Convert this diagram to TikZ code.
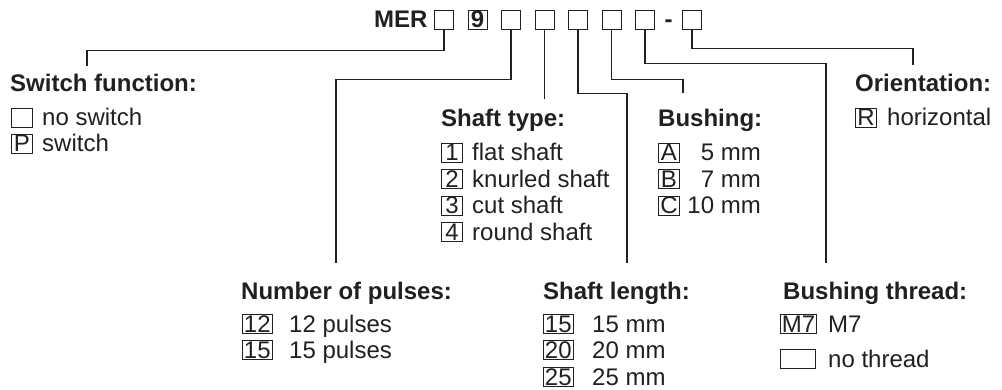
\documentclass[tikz,border=0pt]{standalone}
\usepackage{fontspec}
\setmainfont{Liberation Sans}
\definecolor{ink}{RGB}{35,31,32}
\begin{document}
\begin{tikzpicture}[x=1pt,y=-1pt,
  every node/.style={font=\fontsize{24}{28}\selectfont, text=ink, inner sep=0pt},
  head/.style={font=\fontsize{24}{28}\selectfont\bfseries, anchor=base west},
  lbl/.style={anchor=base west},
  lblr/.style={anchor=base east},
  cbox/.style={draw=ink, line width=0.9pt, inner xsep=1.5pt, inner ysep=1pt, minimum width=21pt, text height=17pt, text depth=0pt, anchor=base west},
  tbox/.style={draw=ink, line width=0.9pt, minimum width=19pt, minimum height=19pt, inner sep=0pt},
  conn/.style={draw=ink, line width=1.2pt}]
\useasboundingbox (0,0) rectangle (1002,390);

% top code row
\node[head] (mer) at (374,28) {MER};
\node[tbox] (t1) at (444,19.5) {};
\node[tbox, font=\fontsize{24}{28}\selectfont\bfseries] (t2) at (477.5,19.5) {9};
\node[tbox] (t3) at (511,19.5) {};
\node[tbox] (t4) at (544.5,19.5) {};
\node[tbox] (t5) at (578,19.5) {};
\node[tbox] (t6) at (611.5,19.5) {};
\node[tbox] (t7) at (645,19.5) {};
\node[head, anchor=base] (dash) at (668.5,28) {-};
\node[tbox] (t8) at (692,19.5) {};

% connector end points
\coordinate (esw) at (87,66);
\coordinate (enp) at (336,263);
\coordinate (est) at (544.5,99);
\coordinate (esl) at (627,263);
\coordinate (ebu) at (683,93);
\coordinate (ebt) at (826,263);
\coordinate (eor) at (913,65);

\draw[conn] (t1.south) -- ++(0,21) -| (esw);
\draw[conn] (t3.south) -- ++(0,50) -| (enp);
\draw[conn] (t4.south) -- (est);
\draw[conn] (t5.south) -- ++(0,64) -| (esl);
\draw[conn] (t6.south) -- ++(0,50) -| (ebu);
\draw[conn] (t7.south) -- ++(0,34) -| (ebt);
\draw[conn] (t8.south) -- ++(0,19) -| (eor);

% Switch function
\node[head] (hsw) at (10,92) {Switch function:};
\node[cbox] (sw1) at (11,126) {};
\node[lbl] (sw1t) at (42,126) {no switch};
\node[cbox] (sw2) at (11,152) {P};
\node[lbl] (sw2t) at (42,152) {switch};

% Orientation
\node[head] (hor) at (855,92) {Orientation:};
\node[cbox] (or1) at (855,126) {R};
\node[lbl] (or1t) at (887,126) {horizontal};

% Shaft type
\node[head] (hst) at (441,127) {Shaft type:};
\node[cbox] (st1) at (441,161) {1};
\node[lbl] (st1t) at (472,161) {flat shaft};
\node[cbox] (st2) at (441,187.5) {2};
\node[lbl] (st2t) at (472,187.5) {knurled shaft};
\node[cbox] (st3) at (441,214) {3};
\node[lbl] (st3t) at (472,214) {cut shaft};
\node[cbox] (st4) at (441,240.5) {4};
\node[lbl] (st4t) at (472,240.5) {round shaft};

% Bushing
\node[head] (hbu) at (658,127) {Bushing:};
\node[cbox] (bu1) at (658,161) {A};
\node[lblr] (bu1t) at (761,161) {5 mm};
\node[cbox] (bu2) at (658,187.5) {B};
\node[lblr] (bu2t) at (761,187.5) {7 mm};
\node[cbox] (bu3) at (658,214) {C};
\node[lblr] (bu3t) at (761,214) {10 mm};

% Number of pulses
\node[head] (hnp) at (241,300) {Number of pulses:};
\node[cbox] (np1) at (242,332) {12};
\node[lbl] (np1t) at (289,332) {12 pulses};
\node[cbox] (np2) at (242,358.5) {15};
\node[lbl] (np2t) at (289,358.5) {15 pulses};

% Shaft length
\node[head] (hsl) at (543,300) {Shaft length:};
\node[cbox] (sl1) at (543,332) {15};
\node[lbl] (sl1t) at (592,332) {15 mm};
\node[cbox] (sl2) at (543,358.5) {20};
\node[lbl] (sl2t) at (592,358.5) {20 mm};
\node[cbox] (sl3) at (543,385) {25};
\node[lbl] (sl3t) at (592,385) {25 mm};

% Bushing thread
\node[head] (hbt) at (783,300) {Bushing thread:};
\node[cbox, minimum width=35pt] (bt1) at (780,332) {M7};
\node[lbl] (bt1t) at (828,332) {M7};
\node[cbox, minimum width=35pt] (bt2) at (780,367) {};
\node[lbl] (bt2t) at (828,367) {no thread};
\end{tikzpicture}
\end{document}
